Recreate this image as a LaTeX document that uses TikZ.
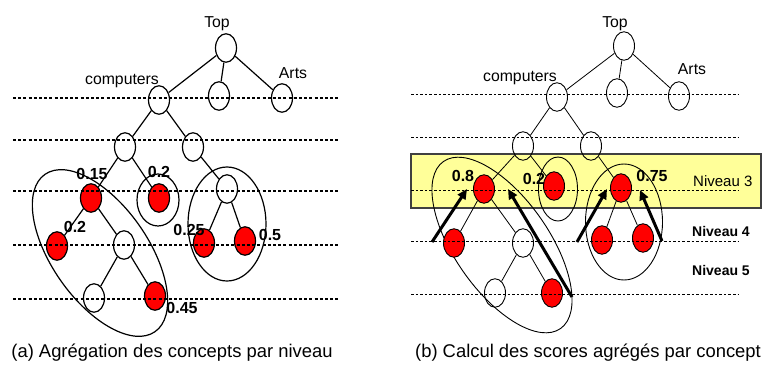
\documentclass[tikz,border=0pt]{standalone}
\usepackage{fontspec}
\setmainfont{Liberation Sans}
\usetikzlibrary{shapes.geometric,arrows.meta}
\definecolor{bandyellow}{HTML}{FFFF99}
\definecolor{bandedge}{HTML}{404040}
\begin{document}
\begin{tikzpicture}[x=1pt,y=-1pt,
  concept/.style={ellipse,draw,minimum width=21pt,minimum height=28.5pt,inner sep=0pt},
  conceptA/.style={concept,line width=1.2pt},
  conceptB/.style={concept,line width=0.9pt},
  hitA/.style={conceptA,fill=red},
  hitB/.style={conceptB,fill=red},
  lbl/.style={font=\fontsize{15.8}{18}\selectfont,inner sep=0pt},
  num/.style={font=\fontsize{16}{18}\selectfont\bfseries,inner sep=0pt},
  lvlname/.style={font=\fontsize{15}{18}\selectfont,inner sep=0pt,anchor=west},
  captext/.style={font=\fontsize{18.4}{21}\selectfont,inner sep=0pt},
  levelA/.style={dash pattern=on 3pt off 2.2pt,line width=1.1pt},
  levelB/.style={dash pattern=on 2.6pt off 2pt,line width=0.8pt},
  edgeA/.style={line width=1.2pt},
  edgeB/.style={line width=0.8pt},
  grpA/.style={line width=1.2pt},
  grpB/.style={line width=0.9pt},
  push/.style={line width=3pt,-{Triangle[length=10pt,width=9pt]}}
]
\useasboundingbox (0,0) rectangle (764,365);

% ================= (a) =================
\draw[grpA] (100,253) ellipse [x radius=96pt, y radius=48pt, rotate=-55];
\draw[grpA] (158,200) ellipse [x radius=21pt, y radius=26pt];
\draw[grpA] (227,224) ellipse [x radius=39pt, y radius=57pt];

\node[conceptA] (aTop) at (226,48) {};
\node[conceptA] (aComp) at (159,100) {};
\node[conceptA] (aMid) at (219,96) {};
\node[conceptA] (aArts) at (282,98) {};
\node[conceptA] (aL2a) at (125,147) {};
\node[conceptA] (aL2b) at (193,147) {};
\node[hitA] (aR15) at (91,198) {};
\node[hitA] (aR2) at (159,198) {};
\node[hitA] (aRleft) at (57,246) {};
\node[conceptA] (aW4) at (124,245) {};
\node[conceptA] (aW5) at (94,298) {};
\node[hitA] (aR45) at (155,296) {};
\node[conceptA] (aWr) at (227,189) {};
\node[hitA] (aR25) at (204,243) {};
\node[hitA] (aR5) at (245,241) {};

\draw[edgeA] (aTop) -- (aComp);
\draw[edgeA] (aTop) -- (aMid);
\draw[edgeA] (aTop) -- (aArts);
\draw[edgeA] (aComp) -- (aL2a);
\draw[edgeA] (aComp) -- (aL2b);
\draw[edgeA] (aL2a) -- (aR15);
\draw[edgeA] (aL2a) -- (aR2);
\draw[edgeA] (aL2b) -- (aWr);
\draw[edgeA] (aR15) -- (aRleft);
\draw[edgeA] (aR15) -- (aW4);
\draw[edgeA] (aW4) -- (aW5);
\draw[edgeA] (aW4) -- (aR45);
\draw[edgeA] (aWr) -- (aR25);
\draw[edgeA] (aWr) -- (aR5);

\foreach \yy/\nm in {98/1,140/2,191/3,245/4,299/5}{
  \coordinate (aL\nm s) at (13,\yy);
  \coordinate (aL\nm e) at (340,\yy);
  \draw[levelA] (aL\nm s) -- (aL\nm e);
}

\node[lbl] (aTopT) at (217,24) {Top};
\node[lbl] (aCompT) at (122,81) {computers};
\node[lbl] (aArtsT) at (293,73) {Arts};
\node[num] (aN15) at (92,174) {0.15};
\node[num] (aN2a) at (159,172) {0.2};
\node[num] (aN2b) at (75,227) {0.2};
\node[num] (aN25) at (189,230) {0.25};
\node[num] (aN5) at (270,235) {0.5};
\node[num] (aN45) at (182,308) {0.45};
\node[captext] (aCap) at (172,353) {(a) Agrégation des concepts par niveau};

% ================= (b) =================
\fill[bandyellow] (411,154) rectangle (761,208);
\draw[bandedge,line width=1.3pt] (411,154) rectangle (761,208);

\draw[grpB] (502,245) ellipse [x radius=102pt, y radius=47pt, rotate=-55];
\draw[grpB] (558,189) ellipse [x radius=19.5pt, y radius=32pt];
\draw[grpB] (624,222) ellipse [x radius=38.5pt, y radius=58pt];

\node[conceptB] (bTop) at (624,46) {};
\node[conceptB] (bComp) at (557,97) {};
\node[conceptB] (bMid) at (617,93) {};
\node[conceptB] (bArts) at (679,96) {};
\node[conceptB] (bL2a) at (523,146) {};
\node[conceptB] (bL2b) at (591,146) {};
\node[hitB] (bR8) at (484,189) {};
\node[hitB] (bR2) at (554,186) {};
\node[hitB] (bR75) at (621,188) {};
\node[hitB] (bRleft) at (454,243) {};
\node[conceptB] (bW4) at (523,243) {};
\node[conceptB] (bW5) at (495,293) {};
\node[hitB] (bR5) at (552,293) {};
\node[hitB] (bRr1) at (602,240) {};
\node[hitB] (bRr2) at (643,238) {};

\draw[edgeB] (bTop) -- (bComp);
\draw[edgeB] (bTop) -- (bMid);
\draw[edgeB] (bTop) -- (bArts);
\draw[edgeB] (bComp) -- (bL2a);
\draw[edgeB] (bComp) -- (bL2b);
\draw[edgeB] (bL2a) -- (bR8);
\draw[edgeB] (bL2a) -- (bR2);
\draw[edgeB] (bL2b) -- (bR75);
\draw[edgeB] (bR8) -- (bRleft);
\draw[edgeB] (bR8) -- (bW4);
\draw[edgeB] (bW4) -- (bW5);
\draw[edgeB] (bW4) -- (bR5);
\draw[edgeB] (bR75) -- (bRr1);
\draw[edgeB] (bR75) -- (bRr2);

\foreach \yy/\nm in {94/1,137/2,190/3,241/4,294/5}{
  \coordinate (bL\nm s) at (411,\yy);
  \coordinate (bL\nm e) at (738,\yy);
  \draw[levelB] (bL\nm s) -- (bL\nm e);
}

\coordinate (p1s) at (432,242); \coordinate (p1e) at (467,189);
\coordinate (p2s) at (572,297); \coordinate (p2e) at (508,189);
\coordinate (p3s) at (577,242); \coordinate (p3e) at (607,189);
\coordinate (p4s) at (662,241); \coordinate (p4e) at (640,190);
\draw[push] (p1s) -- (p1e);
\draw[push] (p2s) -- (p2e);
\draw[push] (p3s) -- (p3e);
\draw[push] (p4s) -- (p4e);

\node[lbl] (bTopT) at (615,24) {Top};
\node[lbl] (bCompT) at (520,78) {computers};
\node[lbl] (bArtsT) at (692,69) {Arts};
\node[num] (bN8) at (463,176) {0.8};
\node[num] (bN2) at (534,179) {0.2};
\node[num] (bN75) at (652,176) {0.75};
\node[lvlname] (bNiv3) at (693,181) {Niveau 3};
\node[lvlname,font=\fontsize{14}{18}\selectfont\bfseries] (bNiv4) at (692,231) {Niveau 4};
\node[lvlname,font=\fontsize{14}{18}\selectfont\bfseries] (bNiv5) at (692,270) {Niveau 5};
\node[captext] (bCap) at (588,353) {(b) Calcul des scores agrégés par concept};
\end{tikzpicture}
\end{document}
